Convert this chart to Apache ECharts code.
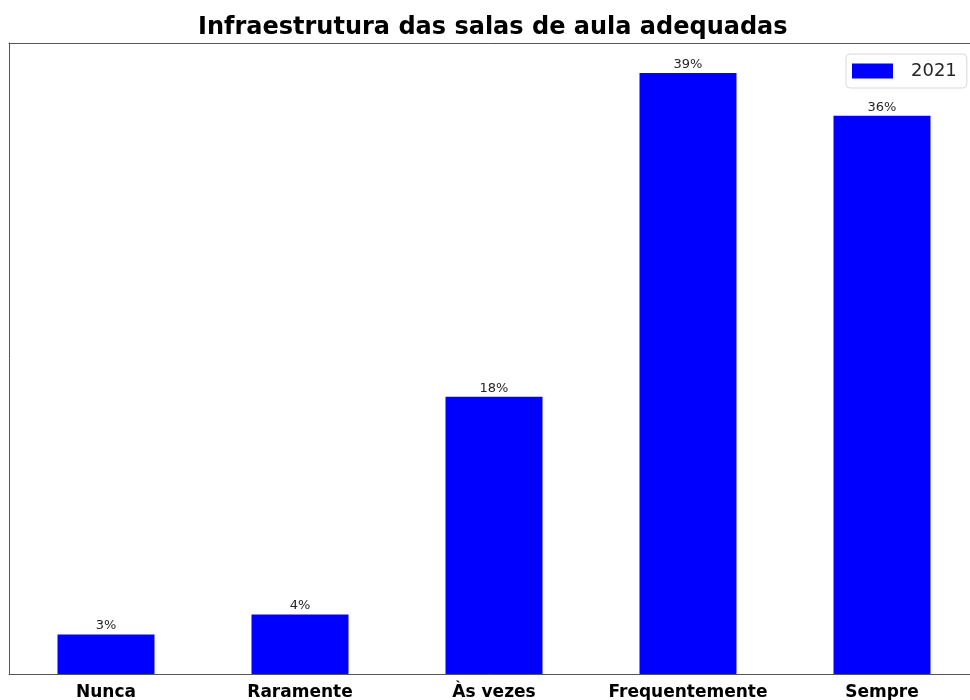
<!DOCTYPE html>
<html>
<head>
<meta charset="utf-8">
<script src="https://cdn.jsdelivr.net/npm/echarts@6/dist/echarts.min.js"></script>
<style>
  html, body { margin: 0; padding: 0; background: #fff; }
  #chart { width: 970px; height: 700px; }
</style>
</head>
<body>
<div id="chart"></div>
<script>
const categories = ['Nunca', 'Raramente', 'Às vezes', 'Frequentemente', 'Sempre'];
const values2021 = [2.58, 3.88, 18.05, 39.13, 36.36];
const seriesName = '2021';

const myChart = echarts.init(document.querySelector('#chart'));
const font = 'DejaVu Sans';

myChart.setOption({
  animation: false,
  title: {
    text: 'Infraestrutura das salas de aula adequadas',
    left: 193,
    top: 11,
    textStyle: { fontFamily: font, fontWeight: 'bold', fontSize: 24, color: '#000' }
  },
  legend: {
    data: [seriesName],
    left: 846,
    top: 54,
    icon: 'rect',
    itemWidth: 41,
    itemHeight: 15,
    padding: [8, 10, 8, 6],
    borderColor: '#d8d8d8',
    borderWidth: 1,
    borderRadius: 4,
    textStyle: { fontFamily: font, fontSize: 18, color: '#262626', padding: [0, 0, 0, 13] }
  },
  grid: {
    left: 9, top: 43, width: 970, height: 631,
    containLabel: false,
    outerBoundsMode: 'none'
  },
  xAxis: [
    {
      type: 'category',
      data: categories,
      axisLine: { lineStyle: { color: '#555', width: 1 } },
      axisTick: { alignWithLabel: true, length: 5, lineStyle: { color: '#555' } },
      axisLabel: { interval: 0, hideOverlap: false, fontFamily: font, fontWeight: 'bold', fontSize: 17, color: '#000', margin: 10 }
    },
    {
      type: 'category',
      position: 'top',
      data: categories,
      axisLine: { lineStyle: { color: '#555', width: 1 } },
      axisTick: { show: false },
      axisLabel: { show: false }
    }
  ],
  yAxis: {
    type: 'value',
    min: 0,
    max: 41.09,
    axisLine: { show: true, lineStyle: { color: '#555', width: 1 } },
    axisTick: { show: false },
    axisLabel: { show: false },
    splitLine: { show: false }
  },
  series: [
    {
      name: seriesName,
      type: 'bar',
      data: values2021,
      barWidth: '50%',
      itemStyle: { color: '#0000ff' },
      label: {
        show: true,
        position: 'top',
        distance: 2,
        fontFamily: font,
        fontSize: 13,
        color: '#262626',
        formatter: (p) => Math.round(p.value) + '%'
      }
    }
  ]
});
</script>
</body>
</html>
